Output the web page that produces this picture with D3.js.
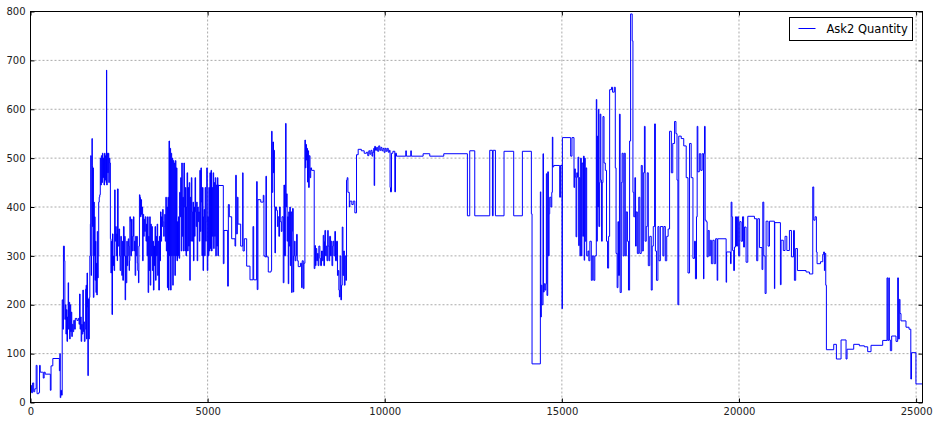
<!DOCTYPE html>
<html>
<head>
<meta charset="utf-8">
<script src="https://cdn.jsdelivr.net/npm/d3@7"></script>
<style>
  body { margin: 0; background: #fff; }
  .tick text { font-family: "DejaVu Sans", sans-serif; }
</style>
</head>
<body>
<div id="chart"></div>
<script>
// Ask2 quantity by sample index, as [index, quantity] steps
var seriesName = "Ask2 Quantity";
var xTicks = [0, 5000, 10000, 15000, 20000, 25000];
var yTicks = [0, 100, 200, 300, 400, 500, 600, 700, 800];

var openSteps = [[0,35],[30,20],[60,40],[90,22],[120,28],[160,76],[185,18],[230,20],[255,76],[275,62],[340,62],[360,50],[385,62],[415,58],[550,58],[560,25],[580,75],[630,90],[805,90],[815,65],[830,100],[840,10],[855,25],[875,15],[895,210],[915,150],[930,320],[955,290],[970,170]];

var rampSteps = [[985,200],[1000,140],[1015,190],[1030,125],[1045,175],[1063,245],[1075,150],[1090,205],[1105,130],[1120,200],[1135,145],[1150,185],[1165,135],[1180,160],[1200,145],[1220,168],[1245,150],[1265,172],[1310,168],[1350,172],[1370,160],[1385,222],[1400,150],[1415,175],[1430,125],[1445,160],[1460,140],[1478,230],[1492,145],[1505,165],[1520,125],[1540,150],[1556,232],[1570,240],[1582,130],[1596,265],[1608,195],[1620,55],[1632,212],[1645,130],[1660,215],[1675,300],[1690,365],[1700,505],[1712,260],[1722,300],[1735,540],[1745,485],[1752,360],[1765,480],[1775,215],[1790,410],[1800,300],[1812,380],[1822,250],[1835,330],[1848,225],[1860,285],[1872,220],[1885,350],[1898,255],[1910,300],[1925,410],[1940,420],[1955,425],[1970,500],[1985,445],[2000,505],[2015,450],[2030,510],[2045,460],[2060,500],[2075,445],[2090,510],[2105,455],[2120,505],[2135,450],[2145,680],[2152,445],[2165,510],[2180,470],[2195,510],[2210,450],[2225,500],[2240,490],[2255,335],[2270,265],[2285,330],[2300,180],[2315,345],[2330,280],[2345,300],[2360,270],[2375,435],[2390,330],[2405,360],[2420,300],[2435,345],[2450,290]];

var middaySteps = [[2455,437],[2475,320],[2495,355],[2515,300],[2530,270],[2549,340],[2565,300],[2577,260],[2592,330],[2605,250],[2624,360],[2643,300],[2660,340],[2671,210],[2685,300],[2699,245],[2718,330],[2732,280],[2746,300],[2760,335],[2774,320],[2785,270],[2793,290],[2805,380],[2820,370],[2832,300],[2850,375],[2868,310],[2885,340],[2906,380],[2920,310],[2934,330],[2953,260],[2970,340],[2981,300],[3000,340],[3015,285],[3028,270],[3047,245],[3060,320],[3075,425],[3090,420],[3105,380],[3120,415],[3135,385],[3150,400],[3165,290],[3180,385],[3195,340],[3210,375],[3225,350],[3240,380],[3260,330],[3275,365],[3290,300],[3305,380],[3320,225],[3335,340],[3350,270],[3365,380],[3380,240],[3395,365],[3410,300],[3425,360],[3440,270],[3455,330],[3470,230],[3485,320],[3500,280],[3515,360],[3530,250],[3545,340],[3560,300],[3575,365],[3590,260],[3605,330],[3620,230],[3640,340],[3655,290],[3670,390],[3685,330],[3700,380],[3715,360],[3730,395],[3745,370],[3760,340],[3775,360],[3790,385],[3805,330],[3820,420],[3835,310],[3850,400],[3865,235],[3880,420],[3895,230],[3910,535],[3925,300],[3940,520],[3955,230],[3970,510],[3985,300],[4000,500],[4015,240],[4030,495],[4045,300],[4060,490],[4075,260],[4090,495],[4105,300],[4120,480],[4135,290],[4150,370],[4165,300],[4180,380],[4195,295],[4210,430],[4225,380],[4240,460],[4255,310],[4270,490],[4285,340],[4300,420],[4315,310],[4330,490],[4345,400],[4360,310],[4375,440],[4390,300],[4405,400],[4420,470],[4435,310],[4450,440],[4465,320],[4480,450],[4495,250],[4510,420],[4525,330],[4540,460],[4555,390],[4570,330],[4585,410],[4600,290],[4615,400],[4630,340],[4645,460],[4660,390],[4675,360],[4690,410],[4705,290],[4720,400],[4735,370],[4750,390],[4765,330],[4780,475],[4795,350],[4810,480],[4825,410],[4840,300],[4855,440],[4870,270],[4885,380],[4900,395],[4915,300],[4930,440],[4945,330],[4960,370],[4975,480],[4990,270],[5005,380],[5020,300],[5035,440],[5050,310],[5065,470],[5080,315],[5095,475],[5110,310],[5125,440],[5140,340],[5155,470],[5170,315],[5185,450],[5200,340],[5215,460],[5230,300],[5245,445],[5260,320],[5275,460],[5290,300],[5305,445]];

var afternoonSteps = [[5320,444],[5443,284],[5462,352],[5565,238],[5585,405],[5613,380],[5679,335],[5773,320],[5792,465],[5810,345],[5839,420],[5858,365],[5933,320],[5989,470],[6000,310],[6036,335],[6102,279],[6196,251],[6280,360],[6300,251],[6383,452],[6400,231],[6420,415],[6500,410],[6571,424],[6590,300],[6618,298],[6646,463],[6660,298],[6712,267],[6790,270],[6806,555],[6820,430],[6840,533],[6860,470],[6872,516],[6885,400],[6900,306],[6915,400],[6947,393],[6970,360],[6990,380],[7010,340],[7030,400],[7050,370],[7080,350],[7100,380],[7135,245],[7154,445],[7170,300],[7201,571],[7215,400],[7229,427],[7245,330],[7260,380],[7276,243],[7290,390],[7305,320],[7320,400],[7335,280],[7350,390],[7371,225],[7385,350],[7398,397],[7417,226],[7430,300],[7450,330],[7470,290],[7490,300],[7511,344],[7530,290],[7558,278],[7620,285],[7653,235],[7670,290],[7700,233],[7720,285],[7746,537],[7760,480],[7775,528],[7790,496],[7805,520],[7820,451],[7835,515],[7850,440],[7870,505],[7890,460],[7910,480],[7934,475],[8009,274],[8028,321],[8045,280],[8060,315],[8080,290],[8100,305],[8120,280],[8140,320],[8169,295],[8190,280],[8215,310],[8240,290],[8263,342],[8280,280],[8300,330],[8310,352],[8330,300],[8350,320],[8370,290],[8390,352],[8404,320],[8425,290],[8445,340],[8470,300],[8490,330],[8510,280],[8530,320],[8545,330],[8565,300],[8590,350],[8610,290],[8640,330],[8665,260],[8686,270],[8705,230],[8720,216],[8740,300],[8760,210],[8780,240],[8800,359],[8820,260],[8840,310],[8860,240],[8880,300],[8900,250],[8921,455],[8940,460],[8960,430],[9000,400],[9015,412],[9070,405],[9110,412],[9156,388],[9203,507]];

var flatSteps = [[9250,518],[9340,515],[9420,510],[9485,512],[9520,505],[9550,515],[9580,508],[9610,516],[9640,504],[9660,512],[9690,520],[9701,444],[9715,524],[9740,516],[9770,522],[9800,514],[9830,525],[9860,516],[9890,522],[9920,515],[9950,520],[9980,512],[10010,520],[10040,514],[10070,520],[10100,512],[10130,516],[10150,440],[10162,431],[10190,510],[10230,514],[10284,431],[10303,510],[10331,504],[10594,515],[10610,504],[10735,515],[10750,504],[11083,509],[11271,504],[11666,509],[12333,382],[12399,515],[12541,382],[12964,516],[13040,382],[13060,516],[13124,382],[13367,514],[13640,382],[13885,514],[14139,386],[14158,79]];

var reboundSteps = [[14393,431],[14405,175],[14420,240],[14440,200],[14468,509],[14480,226],[14500,243],[14520,230],[14545,243],[14562,468],[14580,219],[14600,472],[14620,300],[14640,386],[14656,420],[14690,400],[14715,430],[14731,543],[14745,482],[14770,485],[14938,420],[14960,485],[15004,192],[15015,542],[15248,504],[15285,542],[15342,440],[15360,478],[15380,461],[15400,339],[15420,470],[15440,461],[15455,502],[15475,321],[15490,460],[15510,300],[15530,500],[15549,300],[15565,490],[15590,340],[15610,504],[15630,291],[15643,500],[15660,330],[15680,480],[15700,300]];

var eveningSteps = [[15737,310],[15760,290],[15790,330],[15831,250],[15860,300],[15900,250],[15930,300],[15972,620],[15985,330],[16000,545],[16015,400],[16030,600],[16045,360],[16066,450],[16080,590],[16100,455],[16120,330],[16140,450],[16160,585],[16190,490],[16226,475],[16260,330],[16290,275],[16320,340],[16348,640],[16400,645],[16430,635],[16480,645],[16508,480],[16530,305],[16560,235],[16583,370],[16600,260],[16625,590],[16645,225],[16677,450],[16700,510],[16730,300],[16760,510],[16790,300],[16818,390],[16850,330],[16880,230],[16912,535],[16940,795],[16985,740],[17006,430],[17030,380],[17060,460],[17080,320],[17100,390],[17130,305],[17170,420],[17200,305],[17241,485],[17270,310],[17300,470],[17330,565],[17350,330],[17382,360],[17410,470],[17440,280],[17480,340],[17523,230],[17550,320],[17580,360],[17617,570],[17640,310],[17670,250],[17711,360],[17740,290],[17780,360],[17852,300],[17880,360],[17920,290],[17960,340],[18000,355],[18040,555],[18090,470],[18130,530],[18181,575],[18220,550],[18250,455],[18275,200],[18300,545],[18369,540],[18440,525],[18510,460],[18560,265],[18604,530],[18650,460],[18700,295],[18745,330],[18770,253],[18800,380],[18819,565],[18838,472],[18880,509],[18920,475],[18960,509],[18998,253],[19010,509],[19026,565],[19045,373]];

var lateSteps = [[19073,370],[19100,298],[19130,352],[19160,300],[19190,332],[19220,284],[19260,332],[19300,284],[19340,335],[19383,250],[19400,335],[19637,246],[19650,308],[19760,284],[19778,410],[19800,380],[19820,311],[19850,270],[19872,318],[19900,380],[19930,320],[19960,380],[19990,300],[20020,370],[20060,330],[20100,380],[20130,318],[20154,359],[20200,287],[20248,381],[20436,376],[20500,290],[20530,376],[20577,317],[20650,272],[20672,410],[20700,300],[20737,223],[20765,371],[20820,320],[20860,371],[21000,233],[21010,368],[21100,368],[21169,241],[21188,332],[21250,311],[21300,340],[21350,311],[21423,352],[21480,298],[21540,352],[21564,250],[21600,315],[21650,270],[21893,267],[21988,263],[22082,441],[22110,373],[22148,380],[22185,308],[22204,284],[22300,288],[22364,303],[22390,308],[22411,270],[22425,305],[22449,240]];

var closeSteps = [[22467,108],[22674,119],[22749,89],[22881,128],[23022,89],[23050,109],[23238,119],[23398,116],[23539,114],[23633,104],[23727,117],[24056,127],[24178,255],[24200,127],[24230,255],[24244,128],[24272,106],[24310,136],[24432,125],[24479,255],[24500,130],[24526,211],[24545,182],[24573,167],[24714,154],[24800,150],[24850,48],[24870,102],[24995,38],[25180,38]];

var total_width = 939, total_height = 423;
var margin = {top: 11.5, right: 16.5, bottom: 20.5, left: 30.5},
    width = total_width - margin.left - margin.right,
    height = total_height - margin.top - margin.bottom;

var data = [].concat(openSteps, rampSteps, middaySteps, afternoonSteps, flatSteps,
                     reboundSteps, eveningSteps, lateSteps, closeSteps)
  .map(function (d) { return {i: d[0], q: d[1]}; });

var svg = d3.select("#chart").append("svg")
    .attr("width", total_width)
    .attr("height", total_height)
  .append("g")
    .attr("transform", "translate(" + margin.left + "," + margin.top + ")");

var x = d3.scaleLinear().domain([0, 25180]).range([0, width]);
var y = d3.scaleLinear().domain([0, 800]).range([height, 0]);

// grid
svg.append("g").selectAll("line.gx")
  .data(xTicks).enter().append("line")
    .attr("x1", d => x(d)).attr("x2", d => x(d))
    .attr("y1", 0).attr("y2", height)
    .attr("stroke", "#aaaaaa").attr("stroke-width", 1)
    .attr("stroke-dasharray", "2,2");
svg.append("g").selectAll("line.gy")
  .data(yTicks).enter().append("line")
    .attr("x1", 0).attr("x2", width)
    .attr("y1", d => y(d)).attr("y2", d => y(d))
    .attr("stroke", "#aaaaaa").attr("stroke-width", 1)
    .attr("stroke-dasharray", "2,2");

// series
var line = d3.line()
    .x(d => x(d.i))
    .y(d => y(d.q))
    .curve(d3.curveStepAfter);

svg.append("path")
    .datum(data)
    .attr("d", line)
    .attr("fill", "none")
    .attr("stroke", "#0000ff")
    .attr("stroke-width", 1);

// axes, ticks pointing inwards
function styleAxis(g) {
  g.select(".domain").remove();
  g.selectAll(".tick line").attr("stroke", "#000");
  g.selectAll(".tick text").attr("font-size", "10px").attr("fill", "#222");
}

svg.append("g")
    .attr("transform", "translate(0," + height + ")")
    .call(d3.axisBottom(x).tickValues(xTicks).tickSize(-4).tickPadding(5).tickFormat(d3.format("d")))
    .call(styleAxis);
svg.append("g")
    .call(d3.axisLeft(y).tickValues(yTicks).tickSize(-4).tickPadding(5).tickFormat(d3.format("d")))
    .call(styleAxis);
svg.append("g")
    .call(d3.axisTop(x).tickValues(xTicks).tickSize(-4).tickFormat(""))
    .call(styleAxis);
svg.append("g")
    .attr("transform", "translate(" + width + ",0)")
    .call(d3.axisRight(y).tickValues(yTicks).tickSize(-4).tickFormat(""))
    .call(styleAxis);

// frame
svg.append("rect")
    .attr("width", width).attr("height", height)
    .attr("fill", "none").attr("stroke", "#000").attr("stroke-width", 1);

// legend
var legend = svg.append("g")
    .attr("transform", "translate(" + (width - 133) + ",6)");
legend.append("rect")
    .attr("width", 123).attr("height", 23)
    .attr("fill", "#fff").attr("stroke", "#000").attr("stroke-width", 1);
legend.append("line")
    .attr("x1", 9).attr("x2", 26).attr("y1", 11).attr("y2", 11)
    .attr("stroke", "#0000ff").attr("stroke-width", 1);
legend.append("text")
    .attr("x", 37).attr("y", 15.5)
    .attr("font-family", "DejaVu Sans, sans-serif")
    .attr("font-size", "11.5px")
    .attr("fill", "#000")
    .text(seriesName);
</script>
</body>
</html>
